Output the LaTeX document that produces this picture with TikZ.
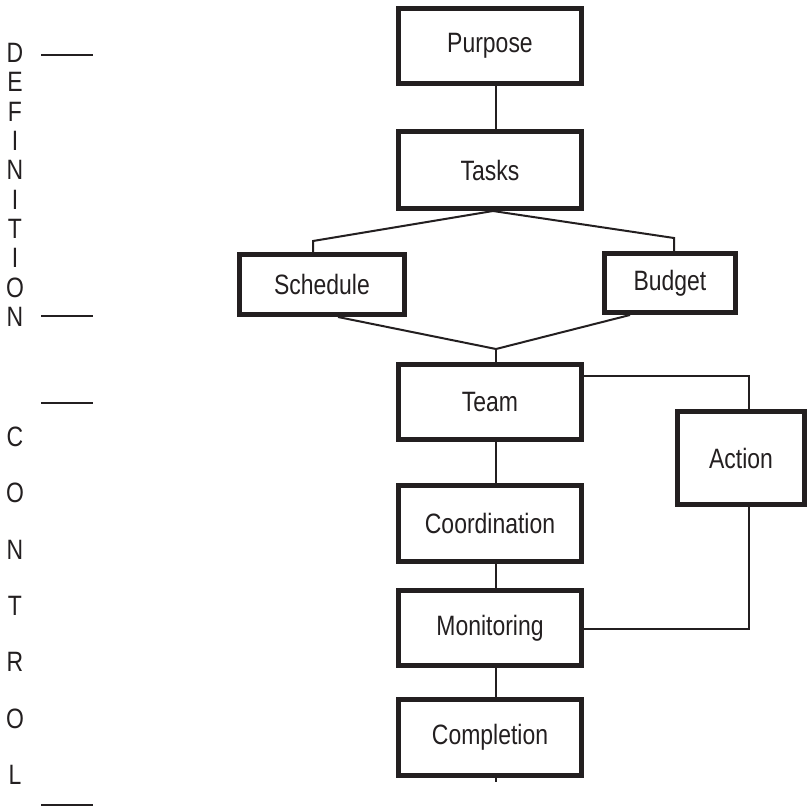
\documentclass[tikz,border=0pt]{standalone}
\usepackage{fontspec}
\setmainfont{Liberation Sans}[FakeStretch=0.82]
\definecolor{ink}{HTML}{231F20}
\begin{document}
\begin{tikzpicture}[x=1pt,y=-1pt,
  box/.style={draw=ink, line width=5pt, inner sep=0pt, text=ink,
              font=\fontsize{28}{32}\selectfont},
  conn/.style={draw=ink, line width=2pt},
  tickline/.style={draw=ink, line width=2.8pt},
  letter/.style={text=ink, inner sep=0pt, font=\fontsize{28}{32}\selectfont}]
\useasboundingbox (0,0) rectangle (808,809);

% boxes
\node[box, minimum width=183pt, minimum height=75pt] (purpose) at (490,46) {Purpose};
\node[box, minimum width=183pt, minimum height=77pt] (tasks) at (490,170) {Tasks};
\node[box, minimum width=165pt, minimum height=60pt] (schedule) at (322,284.5) {Schedule};
\node[box, minimum width=131pt, minimum height=59pt] (budget) at (670,283) {Budget};
\node[box, minimum width=183pt, minimum height=75pt] (team) at (490,402) {Team};
\node[box, minimum width=183pt, minimum height=76pt] (coord) at (490,523.5) {Coordination};
\node[box, minimum width=183pt, minimum height=75pt] (monitor) at (490,628) {Monitoring};
\node[box, minimum width=183pt, minimum height=76pt] (complete) at (490,737.5) {Completion};
\node[box, minimum width=127pt, minimum height=93pt] (action) at (741,458) {Action};

% helper coordinates
\coordinate (cx) at (496,0);
\coordinate (tx) at (493,0);
\coordinate (sL) at (313,241);
\coordinate (bR) at (674,238);
\coordinate (sx) at (338,0);
\coordinate (bx) at (630,0);
\coordinate (jn) at (496,349);
\coordinate (ax) at (749,0);
\coordinate (ty) at (0,376);
\coordinate (my) at (0,629);
\coordinate (endtick) at (496,782);

% connectors
\draw[conn] (purpose.south -| cx) -- (tasks.north -| cx);
\draw[conn] (tasks.south -| tx) -- (sL) -- (sL |- schedule.north);
\draw[conn] (tasks.south -| tx) -- (bR) -- (bR |- budget.north);
\draw[conn] (schedule.south -| sx) -- (jn) -- (budget.south -| bx);
\draw[conn] (jn) -- (team.north -| cx);
\draw[conn] (team.south -| cx) -- (coord.north -| cx);
\draw[conn] (coord.south -| cx) -- (monitor.north -| cx);
\draw[conn] (monitor.south -| cx) -- (complete.north -| cx);
\draw[conn] (complete.south -| cx) -- (endtick);
\draw[conn] (team.east |- ty) -- (ax |- ty) -- (ax |- action.north);
\draw[conn] (monitor.east |- my) -- (ax |- my) -- (ax |- action.south);

% left side labels
\foreach \ch [count=\i from 0] in {D,E,F,I,N,I,T,I,O,N}
  \node[letter] (def\i) at (15,53+29.33*\i) {\ch};
\foreach \ch [count=\i from 0] in {C,O,N,T,R,O,L}
  \node[letter] (con\i) at (15,437+56.3*\i) {\ch};

\coordinate (l1a) at (41,55);   \coordinate (l1b) at (93,55);
\coordinate (l2a) at (41,316);  \coordinate (l2b) at (93,316);
\coordinate (l3a) at (41,403);  \coordinate (l3b) at (93,403);
\coordinate (l4a) at (41,805);  \coordinate (l4b) at (93,805);
\draw[tickline] (l1a) -- (l1b);
\draw[tickline] (l2a) -- (l2b);
\draw[tickline] (l3a) -- (l3b);
\draw[tickline] (l4a) -- (l4b);
\end{tikzpicture}
\end{document}
